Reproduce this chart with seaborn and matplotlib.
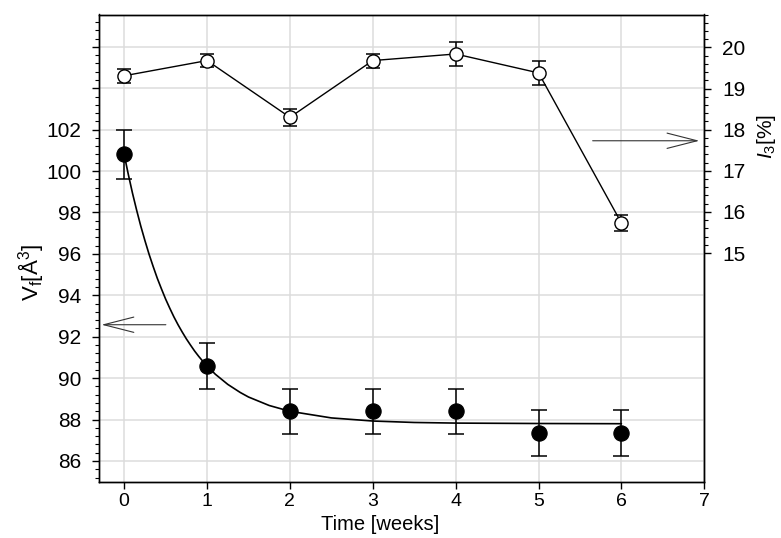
import numpy as np
import matplotlib
matplotlib.use("Agg")
import matplotlib.pyplot as plt
import matplotlib.ticker as mticker
import seaborn as sns

# valores
semanas = [0, 1, 2, 3, 4, 5, 6]
vf = [100.8, 90.6, 88.4, 88.4, 88.4, 87.35, 87.35]
vf_err = [1.2, 1.1, 1.1, 1.1, 1.1, 1.1, 1.1]
i3 = [19.31, 19.68, 18.3, 19.68, 19.84, 19.38, 15.73]
i3_err = [0.17, 0.15, 0.2, 0.17, 0.3, 0.3, 0.2]

# curva de ajuste, muestreada a ojo sobre la figura
ajuste_t = [0, 0.05, 0.1, 0.15, 0.2, 0.25, 0.3, 0.35, 0.4, 0.45, 0.5, 0.55, 0.6,
            0.65, 0.7, 0.75, 0.8, 0.85, 0.9, 0.95, 1.0, 1.1, 1.25, 1.4, 1.5, 1.75,
            2.0, 2.5, 3.0, 3.5, 4.0, 5.0, 6.0]
ajuste_v = [100.8, 99.84, 98.94, 98.12, 97.35, 96.65, 95.99, 95.39, 94.82, 94.31,
            93.82, 93.38, 92.96, 92.58, 92.23, 91.9, 91.6, 91.31, 91.05, 90.81,
            90.59, 90.19, 89.7, 89.31, 89.09, 88.68, 88.4, 88.08, 87.93, 87.86,
            87.83, 87.81, 87.8]

# ticks: los de la izquierda llevan etiqueta solo hasta 102
vf_ticks = [86, 88, 90, 92, 94, 96, 98, 100, 102, 104, 106]
vf_etiquetas = ["86", "88", "90", "92", "94", "96", "98", "100", "102", "", ""]
i3_ticks = [15, 16, 17, 18, 19, 20]

sns.set_style("ticks")
plt.rcParams["font.family"] = ["Liberation Sans", "DejaVu Sans"]
plt.rcParams["mathtext.fontset"] = "custom"
plt.rcParams["mathtext.rm"] = "Liberation Sans"
plt.rcParams["mathtext.it"] = "Liberation Sans:italic"
plt.rcParams["text.color"] = "black"
plt.rcParams["axes.labelcolor"] = "black"
plt.rcParams["xtick.color"] = "black"
plt.rcParams["ytick.color"] = "black"

fig = plt.figure(figsize=(7.81, 5.38), dpi=100)
ax = fig.add_axes([99.3 / 781, 1 - 481.7 / 538, 605 / 781, 467.2 / 538])
ax2 = ax.twinx()

gris = "#dcdcdc"
ax.set_xlim(-0.3, 7)
ax.set_ylim(85.0, 107.56)
ax2.set_ylim(9.44, 20.80)

ax.set_xticks(range(8))
ax.set_yticks(vf_ticks, vf_etiquetas)
ax.yaxis.set_minor_locator(mticker.MultipleLocator(0.4))
ax2.set_yticks(i3_ticks)
ax2.yaxis.set_minor_locator(mticker.FixedLocator(np.arange(15.2, 20.81, 0.2)))

# la rejilla de la izquierda coincide con la de la derecha (102=18, 104=19, 106=20)
ax.grid(True, which="major", color=gris, lw=1.1)
ax2.grid(False)
ax.set_axisbelow(True)

for a in (ax, ax2):
    a.tick_params(which="major", length=5, width=1, labelsize=15, pad=8)
    a.tick_params(which="minor", length=2.8, width=0.8)
    for s in a.spines.values():
        s.set_color("black")
        s.set_linewidth(1)
ax.tick_params(axis="x", pad=3, labelsize=14)
ax2.tick_params(axis="y", left=False, which="both")

# serie Vf (eje izquierdo)
ax.errorbar(semanas, vf, yerr=vf_err, fmt="none", ecolor="black", elinewidth=1.1,
            capsize=5.5, capthick=1.1, zorder=3)
sns.lineplot(x=ajuste_t, y=ajuste_v, color="black", lw=1.2, ax=ax, zorder=3)
sns.scatterplot(x=semanas, y=vf, color="black", s=120, edgecolor="black", ax=ax, zorder=4)

# serie I3 (eje derecho)
ax2.errorbar(semanas, i3, yerr=i3_err, fmt="none", ecolor="black", elinewidth=1.1,
             capsize=5, capthick=1.1, zorder=3)
sns.lineplot(x=semanas, y=i3, color="black", lw=1.0, marker="o", ms=9.5,
             mfc="white", mec="black", mew=1.0, ax=ax2, zorder=4)

# flechas indicando el eje de cada serie
estilo = "->,head_length=2.16,head_width=0.55"
ax.annotate("", xy=(-0.273, 92.58), xytext=(0.503, 92.58),
            arrowprops=dict(arrowstyle=estilo, lw=0.8, color="#333333",
                            shrinkA=0, shrinkB=0, mutation_scale=10))
ax2.annotate("", xy=(6.94, 17.73), xytext=(5.653, 17.73),
             arrowprops=dict(arrowstyle=estilo, lw=0.8, color="#333333",
                             shrinkA=0, shrinkB=0, mutation_scale=10))

ax.set_xlabel("Time [weeks]", fontsize=14.5)
ax.xaxis.set_label_coords(0.464, -0.0713)
ax.set_ylabel(r"V$_\mathrm{f}$[Å$^3$]", fontsize=16)
ax.yaxis.set_label_coords(-0.088, 0.447)
ax2.set_ylabel(r"$I_3$[%]", fontsize=15)
ax2.yaxis.set_label_coords(1.083, 0.74)

fig.savefig("out.png", dpi=100)
